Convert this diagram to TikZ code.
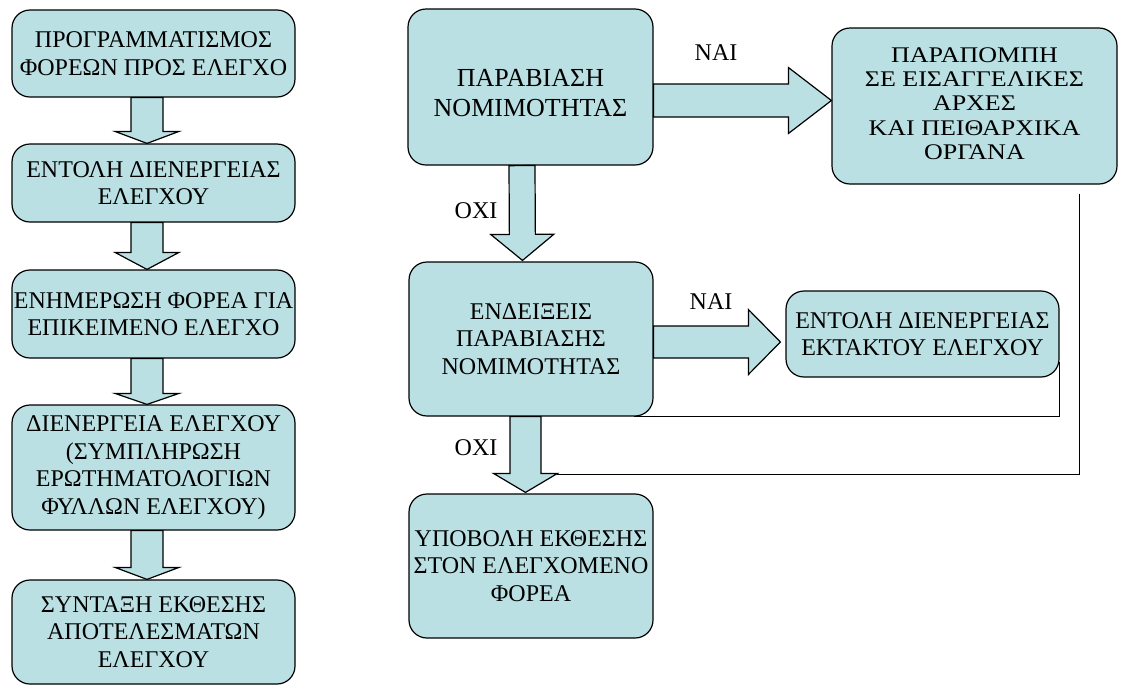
\documentclass[tikz,border=0pt]{standalone}
\usepackage{fontspec}
\setmainfont{Liberation Serif}
\usepackage{tikz}
\usetikzlibrary{calc}
\definecolor{boxfill}{HTML}{BAE0E3}
\def\blockarrow[#1](#2)(#3)(#4:#5:#6){%
	\coordinate (ba) at (#2);
	\coordinate (bt) at (#3);
	\coordinate (bh) at ($(bt)!#6!(ba)$);
	\draw[#1] ($(ba)!#4!90:(bt)$) -- ($(bh)!#4!90:(bt)$) -- ($(bh)!#5!90:(bt)$) -- (bt) -- ($(bh)!#5!-90:(bt)$) -- ($(bh)!#4!-90:(bt)$) -- ($(ba)!#4!-90:(bt)$) -- cycle;}

\begin{document}
\begin{tikzpicture}[x=0.5pt, y=-0.5pt,
	box/.style={draw, line width=0.6pt, rounded corners=9pt, fill=boxfill, align=center, inner sep=0pt, font=\fontsize{12}{13.8}\selectfont},
	leftbox/.style={box, minimum width=141.5pt},
	blockarrow/.style={draw, line width=0.6pt, fill=boxfill, line join=miter},
	link/.style={draw, line width=0.6pt},
	lbl/.style={font=\fontsize{12}{13.8}\selectfont}]
		%%%%% START %%%%%
		\useasboundingbox (0,0) rectangle (1121,693);
		
		\node[leftbox, minimum height=43.5pt] (b1) at (153.5,53.5) {ΠΡΟΓΡΑΜΜΑΤΙΣΜΟΣ\\ΦΟΡΕΩΝ ΠΡΟΣ ΕΛΕΓΧΟ};
		\node[leftbox, minimum height=39pt] (b2) at (153.5,183) {ΕΝΤΟΛΗ ΔΙΕΝΕΡΓΕΙΑΣ\\ΕΛΕΓΧΟΥ};
		\node[leftbox, minimum height=44pt] (b3) at (153.5,314) {ΕΝΗΜΕΡΩΣΗ ΦΟΡΕΑ ΓΙΑ\\ΕΠΙΚΕΙΜΕΝΟ ΕΛΕΓΧΟ};
		\node[leftbox, minimum height=62.5pt] (b4) at (153.5,467.5) {ΔΙΕΝΕΡΓΕΙΑ ΕΛΕΓΧΟΥ\\(ΣΥΜΠΛΗΡΩΣΗ\\ΕΡΩΤΗΜΑΤΟΛΟΓΙΩΝ\\ΦΥΛΛΩΝ ΕΛΕΓΧΟΥ)};
		\node[leftbox, minimum height=52pt] (b5) at (153.5,632) {ΣΥΝΤΑΞΗ ΕΚΘΕΣΗΣ\\ΑΠΟΤΕΛΕΣΜΑΤΩΝ\\ΕΛΕΓΧΟΥ};
		
		\blockarrow[blockarrow]([xshift=-3.25pt]b1.south)([xshift=-3.25pt]b2.north)(8pt:16pt:6pt)
		\blockarrow[blockarrow]([xshift=-3.25pt]b2.south)([xshift=-3.25pt]b3.north)(8pt:16pt:8.5pt)
		\blockarrow[blockarrow]([xshift=-3.25pt]b3.south)([xshift=-3.25pt]b4.north)(8pt:16pt:5.5pt)
		\blockarrow[blockarrow]([xshift=-3.25pt]b4.south)([xshift=-3.25pt]b5.north)(8pt:16pt:6pt)
		
		\node[box, minimum width=122.5pt, minimum height=78pt, font=\fontsize{13}{15}\selectfont] (viol) at (530.5,87) {\raisebox{-4pt}[\height][\depth]{\begin{tabular}{@{}c@{}}ΠΑΡΑΒΙΑΣΗ\\ΝΟΜΙΜΟΤΗΤΑΣ\end{tabular}}};
		\node[box, minimum width=142.5pt, minimum height=78pt, font=\fontsize{13}{14.2}\selectfont] (refer) at (974.5,106) {\scalebox{1}[0.86]{\begin{tabular}{@{}c@{}}ΠΑΡΑΠΟΜΠΗ\\ΣΕ ΕΙΣΑΓΓΕΛΙΚΕΣ\\ΑΡΧΕΣ\\ΚΑΙ ΠΕΙΘΑΡΧΙΚΑ\\ΟΡΓΑΝΑ\end{tabular}}};
		\node[box, minimum width=122pt, minimum height=77pt] (signs) at (531,339) {ΕΝΔΕΙΞΕΙΣ\\ΠΑΡΑΒΙΑΣΗΣ\\ΝΟΜΙΜΟΤΗΤΑΣ};
		\node[box, minimum width=136.5pt, minimum height=43pt] (extra) at (922.5,334) {ΕΝΤΟΛΗ ΔΙΕΝΕΡΓΕΙΑΣ\\ΕΚΤΑΚΤΟΥ ΕΛΕΓΧΟΥ};
		\node[box, minimum width=122pt, minimum height=72pt] (report) at (531,566) {ΥΠΟΒΟΛΗ ΕΚΘΕΣΗΣ\\ΣΤΟΝ ΕΛΕΓΧΟΜΕΝΟ\\ΦΟΡΕΑ};
		
		\blockarrow[blockarrow]([yshift=-6.75pt]viol.east)([yshift=2.75pt]refer.west)(8.25pt:16.5pt:21.5pt)
		\blockarrow[blockarrow]([xshift=-4.25pt]viol.south)([xshift=-4.25pt,yshift=0.5pt]signs.north)(6.5pt:15.75pt:13pt)
		\blockarrow[blockarrow]([yshift=-1.5pt]signs.east)([xshift=-2.5pt,yshift=-4pt]extra.west)(8pt:16.25pt:16pt)
		\blockarrow[blockarrow]([xshift=-2.75pt]signs.south)([xshift=-2.75pt,yshift=0.5pt]report.north)(7.75pt:16pt:9.5pt)
		
		\node[lbl] (yes1) at (716,53) {ΝΑΙ};
		\node[lbl] (no1) at (476,211) {ΟΧΙ};
		\node[lbl] (yes2) at (711,302) {ΝΑΙ};
		\node[lbl] (no2) at (476,448) {ΟΧΙ};
		
		\coordinate (rtop) at ([xshift=-19pt,yshift=-4.5pt]refer.south east);
		\coordinate (hd) at ([xshift=13pt,yshift=-29pt]signs.south);
		\draw[link] (rtop) -- (rtop |- hd) -- (hd);
		\draw[link] ([yshift=8pt]extra.south east) -- (extra.south east |- signs.south) -- ([xshift=-10pt]signs.south east);
		
		%%%%% END %%%%%
	\end{tikzpicture}
\end{document}
